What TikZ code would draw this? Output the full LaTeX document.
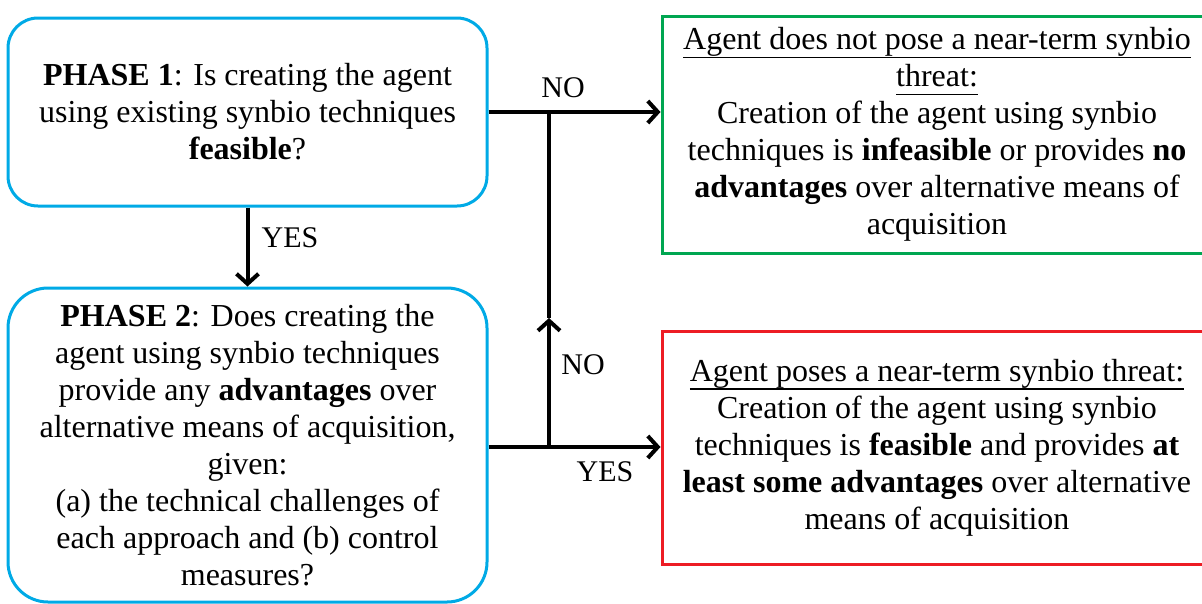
\documentclass[tikz,border=0pt]{standalone}
\usepackage{fontspec}
\setmainfont{Liberation Serif}
\usetikzlibrary{arrows.meta,calc}
\definecolor{boxblue}{RGB}{0,170,230}
\definecolor{boxgreen}{RGB}{0,166,81}
\definecolor{boxred}{RGB}{237,28,36}
\newcommand\myul[1]{{\setbox0\hbox{#1}\makebox[0pt][l]{\rule[-8.5pt]{\wd0}{1.3pt}}\box0}}
\tikzset{
  phase/.style={draw=boxblue, line width=3pt, rounded corners=#1, inner sep=0pt,
    minimum width=479pt, align=center, font=\fontsize{32}{37}\selectfont},
  outcome/.style={draw=#1, line width=3pt, inner sep=0pt, minimum width=550pt,
    align=center, font=\fontsize{32}{37}\selectfont},
  lbl/.style={inner sep=0pt, font=\fontsize{30}{32}\selectfont},
  conn/.style={line width=4pt},
  arr/.style={line width=4pt, -{Straight Barb[length=10pt,width=22pt]}}
}
\begin{document}
\begin{tikzpicture}[x=1pt,y=-1pt]
\useasboundingbox (0,0) rectangle (1202,603);
\clip (0,0) rectangle (1202,603);
\fill[white] (0,0) rectangle (1202,603);
\node[phase=30pt, minimum height=188pt] (p1) at (247.5,112)
  {\textbf{PHASE 1}: Is creating the agent\\using existing synbio techniques\\\textbf{feasible}?};
\node[phase=40pt, minimum height=314pt] (p2) at (247.5,445)
  {\textbf{PHASE 2}: Does creating the\\agent using synbio techniques\\provide any \textbf{advantages} over\\alternative means of acquisition,\\given:\\(a) the technical challenges of\\each approach and (b) control\\measures?};
\node[outcome=boxgreen, minimum height=237pt] (g) at (937,134.5)
  {\myul{Agent does not pose a near-term synbio}\\\myul{threat:}\\Creation of the agent using synbio\\techniques is \textbf{infeasible} or provides \textbf{no}\\\textbf{advantages} over alternative means of\\acquisition};
\node[outcome=boxred, minimum height=233pt] (r) at (937,447.5)
  {\myul{Agent poses a near-term synbio threat:}\\Creation of the agent using synbio\\techniques is \textbf{feasible} and provides \textbf{at}\\\textbf{least some advantages} over alternative\\means of acquisition};
\coordinate (j1) at (549,112);
\coordinate (j2) at (549,447);
\coordinate (m) at (549,318);
\draw[arr] (p1.south) -- (p2.north);
\draw[arr] (p1.east |- j1) -- (j1 -| g.west);
\draw[arr] (p2.east |- j2) -- (j2 -| r.west);
\draw[arr] (j2) -- (m);
\draw[conn] (m) -- (j1);
\node[lbl] (yes1) at (290,238) {YES};
\node[lbl] (no1) at (563,88) {NO};
\node[lbl] (no2) at (583,365) {NO};
\node[lbl] (yes2) at (605,472) {YES};
\end{tikzpicture}
\end{document}
